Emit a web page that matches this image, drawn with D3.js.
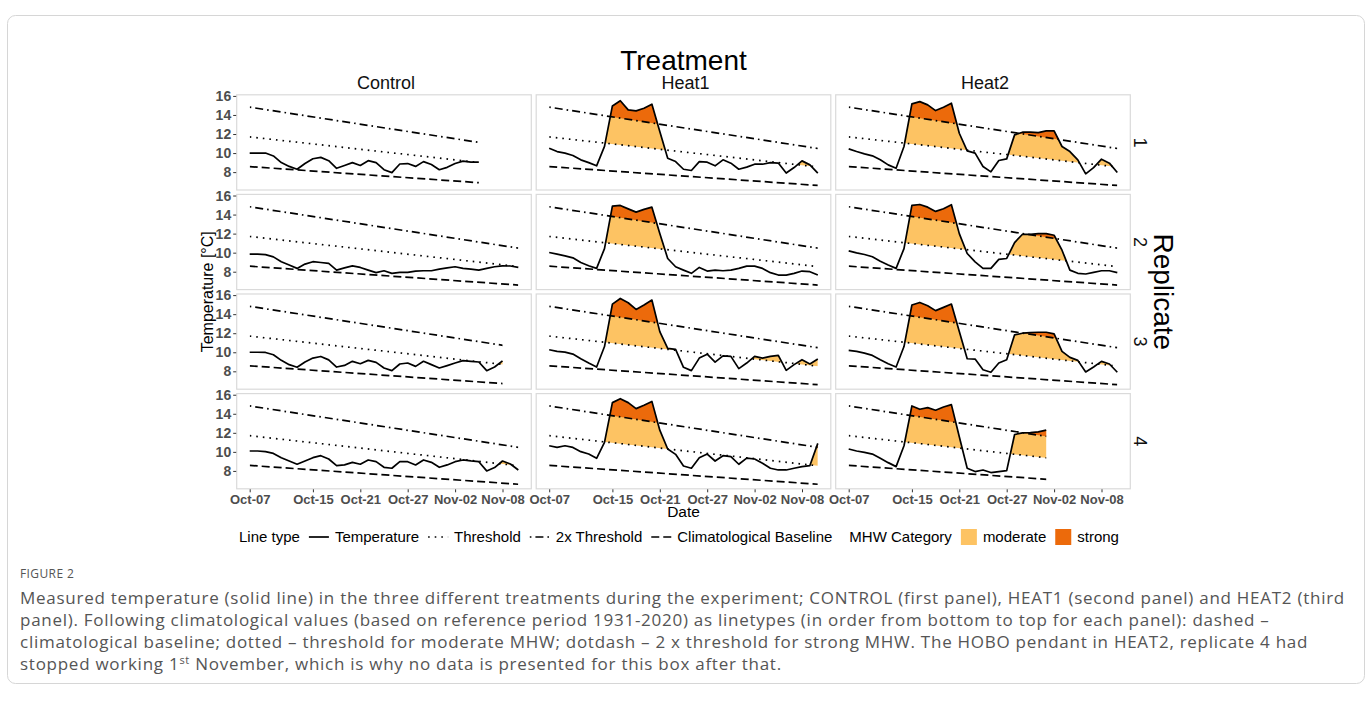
<!DOCTYPE html>
<html>
<head>
<meta charset="utf-8">
<title>Measured temperature per treatment</title>
<script src="https://d3js.org/d3.v7.min.js"></script>
<style>
  body { margin: 0; background: #fff; }
  svg text { font-family: "Liberation Sans", Arial, sans-serif; }
  .tick text { font-weight: bold; fill: #4d4d4d; font-size: 13px; }
  .y-axis .tick text { font-size: 14px; }
  .tick line { stroke: #333; }
  .caption { font-family: "Open Sans", sans-serif; fill: #555; }
</style>
</head>
<body>
<svg id="fig" width="1372" height="703"></svg>
<script>
const treatments = ["Control", "Heat1", "Heat2"];
const replicates = ["1", "2", "3", "4"];
const startDate = "2021-10-07";
const tickDates = ["2021-10-07", "2021-10-15", "2021-10-21", "2021-10-27", "2021-11-02", "2021-11-08"];
const yTicks = [8, 10, 12, 14, 16];

// climatology, straight lines between first and last day
const climDates = ["2021-10-07", "2021-11-10"];
const baseline = [8.58, 6.6];
const threshold = [11.7, 8.54];
const threshold2x = [14.82, 10.48];

// daily mean temperature from Oct-07
const control1 = [10.0, 10.0, 10.0, 9.7, 9.0, 8.6, 8.3, 8.9, 9.4, 9.55, 9.2, 8.4, 8.7, 9.0, 8.7, 9.2, 9.0, 8.25, 7.95, 8.85, 8.9, 8.6, 9.1, 8.8, 8.25, 8.5, 8.9, 9.15, 9.05, 9.05];
const control2 = [9.84, 9.84, 9.8, 9.56, 9.05, 8.7, 8.35, 8.8, 9.05, 8.97, 8.87, 8.17, 8.4, 8.62, 8.45, 8.17, 7.9, 8.1, 7.83, 7.93, 7.93, 8.07, 8.1, 8.1, 8.28, 8.4, 8.52, 8.35, 8.28, 8.17, 8.35, 8.52, 8.62, 8.6, 8.45];
const control3 = [10.0, 10.0, 9.98, 9.74, 9.15, 8.7, 8.42, 8.97, 9.39, 9.56, 9.2, 8.45, 8.62, 9.05, 8.8, 9.15, 8.94, 8.35, 8.07, 8.77, 8.87, 8.52, 9.05, 8.7, 8.35, 8.6, 8.87, 9.12, 9.05, 8.98, 8.07, 8.45, 9.1];
const control4 = [10.09, 10.09, 10.02, 9.84, 9.39, 9.04, 8.7, 9.04, 9.39, 9.6, 9.25, 8.56, 8.63, 8.9, 8.7, 9.15, 8.97, 8.38, 8.28, 8.97, 8.97, 8.63, 9.15, 8.9, 8.38, 8.63, 8.97, 9.15, 9.05, 8.97, 8.0, 8.35, 9.04, 8.73, 8.1];
const heat1r1 = [10.51, 10.16, 9.99, 9.74, 9.29, 9.0, 8.66, 10.7, 14.95, 15.5, 14.53, 14.43, 14.7, 15.13, 12.26, 9.46, 9.11, 8.3, 8.17, 9.1, 9.04, 8.66, 9.29, 8.94, 8.3, 8.52, 8.83, 8.83, 9.0, 8.95, 7.9, 8.48, 9.18, 8.76, 7.9];
const heat1r2 = [10.02, 9.84, 9.67, 9.46, 8.97, 8.63, 8.35, 10.43, 14.89, 14.96, 14.6, 14.26, 14.54, 14.78, 12.0, 9.39, 8.52, 8.17, 7.83, 8.45, 8.07, 8.17, 8.1, 8.17, 8.35, 8.59, 8.59, 8.35, 7.9, 7.65, 7.65, 7.83, 8.07, 8.0, 7.65];
const heat1r3 = [10.26, 10.09, 10.02, 9.81, 9.32, 8.87, 8.45, 10.6, 15.06, 15.65, 15.2, 14.5, 14.96, 15.48, 12.17, 10.4, 10.3, 8.42, 8.07, 9.39, 9.8, 8.97, 9.62, 9.57, 8.28, 8.87, 9.57, 9.39, 9.57, 9.67, 8.1, 8.7, 9.22, 8.77, 9.29];
const heat1r4 = [10.64, 10.47, 10.64, 10.47, 10.02, 9.77, 9.32, 10.99, 15.17, 15.58, 15.17, 14.54, 14.89, 15.3, 12.28, 10.3, 9.74, 8.52, 8.28, 9.39, 9.77, 9.04, 9.6, 9.5, 8.7, 9.35, 9.25, 8.8, 8.28, 8.1, 8.1, 8.28, 8.45, 8.56, 10.89];
const heat2r1 = [10.44, 10.16, 9.92, 9.71, 9.29, 8.76, 8.41, 10.69, 15.16, 15.4, 15.06, 14.46, 14.81, 15.23, 12.08, 10.23, 9.99, 8.59, 8.03, 9.22, 9.39, 11.91, 12.19, 12.19, 12.15, 12.33, 12.33, 10.69, 10.16, 9.29, 7.82, 8.48, 9.36, 8.94, 7.96];
const heat2r2 = [10.19, 9.98, 9.81, 9.57, 9.11, 8.7, 8.35, 10.43, 14.96, 15.06, 14.78, 14.33, 14.61, 15.03, 12.0, 9.91, 9.04, 8.35, 8.35, 9.29, 9.39, 11.06, 11.93, 11.93, 12.0, 12.0, 11.83, 10.26, 8.17, 7.83, 7.76, 7.93, 8.1, 8.1, 7.9];
const heat2r3 = [10.19, 10.09, 9.91, 9.67, 9.22, 8.8, 8.45, 10.6, 14.96, 15.23, 14.89, 14.37, 14.71, 15.06, 12.17, 9.32, 9.29, 8.17, 7.9, 8.87, 9.22, 11.83, 12.0, 12.07, 12.1, 12.1, 11.93, 10.09, 9.46, 9.15, 7.93, 8.45, 9.04, 8.77, 7.9];
const heat2r4 = [10.3, 10.09, 9.95, 9.77, 9.32, 8.87, 8.45, 10.64, 14.82, 14.47, 14.64, 14.37, 14.71, 14.96, 11.58, 8.28, 7.93, 8.1, 7.83, 7.93, 8.03, 11.82, 12.0, 12.03, 12.1, 12.28];

const grid = [
    [control1, control2, control3, control4],
    [heat1r1, heat1r2, heat1r3, heat1r4],
    [heat2r1, heat2r2, heat2r3, heat2r4]
];

const moderateColor = "#fdc363";
const strongColor = "#ec6a0b";
const dashed = "8,4";
const dotted = "1.6,5";
const dotdash = "1.6,4,8,4";

const svg = d3.select("#fig");
const parse = d3.timeParse("%Y-%m-%d");
const t0 = parse(startDate);

const left0 = 236.2, top0 = 94.3;
const panelW = 295.6, panelH = 96.2;
const stepX = 299.5, stepY = 99.6;

const x = d3.scaleTime()
    .domain([d3.timeHour.offset(parse(climDates[0]), -41), d3.timeHour.offset(parse(climDates[1]), 41)])
    .range([0, panelW]);
const y = d3.scaleLinear().domain([6.07, 16.17]).range([panelH, 0]);

const clim = climDates.map((d, i) => ({ date: parse(d), base: baseline[i], thr: threshold[i], thr2: threshold2x[i] }));

// outer frame of the figure
svg.append("rect")
    .attr("x", 7.5).attr("y", 15.5)
    .attr("width", 1357).attr("height", 668)
    .attr("rx", 8)
    .attr("fill", "none")
    .attr("stroke", "#d6d6d6");

const defs = svg.append("defs");

grid.forEach((col, c) => {
    col.forEach((values, r) => {
        const id = `p${c}${r}`;
        const data = values.map((v, i) => ({ date: d3.timeDay.offset(t0, i), v }));
        const g = svg.append("g")
            .attr("transform", `translate(${left0 + c * stepX},${top0 + r * stepY})`);

        g.append("rect")
            .attr("width", panelW).attr("height", panelH)
            .attr("fill", "#fff");

        defs.append("clipPath").attr("id", `thr-${id}`)
            .append("path")
            .attr("d", d3.area().x(d => x(d.date)).y0(0).y1(d => y(d.thr))(clim));
        defs.append("clipPath").attr("id", `thr2-${id}`)
            .append("path")
            .attr("d", d3.area().x(d => x(d.date)).y0(0).y1(d => y(d.thr2))(clim));
        defs.append("clipPath").attr("id", `span-${id}`)
            .append("rect")
            .attr("x", x(data[0].date))
            .attr("y", -5)
            .attr("width", x(data[data.length - 1].date) - x(data[0].date))
            .attr("height", panelH + 10);

        const under = d3.area().x(d => x(d.date)).y0(panelH).y1(d => y(d.v));
        g.append("path").attr("d", under(data))
            .attr("fill", moderateColor)
            .attr("clip-path", `url(#thr-${id})`);
        g.append("path").attr("d", under(data))
            .attr("fill", strongColor)
            .attr("clip-path", `url(#thr2-${id})`);

        const climLine = key => d3.line().x(d => x(d.date)).y(d => y(d[key]));
        [["base", dashed], ["thr", dotted], ["thr2", dotdash]].forEach(([key, dash]) => {
            g.append("path")
                .attr("d", climLine(key)(clim))
                .attr("fill", "none")
                .attr("stroke", "#000")
                .attr("stroke-width", 1.7)
                .attr("stroke-dasharray", dash)
                .attr("clip-path", `url(#span-${id})`);
        });

        g.append("path")
            .attr("d", d3.line().x(d => x(d.date)).y(d => y(d.v))(data))
            .attr("fill", "none")
            .attr("stroke", "#000")
            .attr("stroke-width", 1.7)
            .attr("stroke-linejoin", "round");

        g.append("rect")
            .attr("x", 0.5).attr("y", 0.5)
            .attr("width", panelW - 1).attr("height", panelH - 1)
            .attr("fill", "none")
            .attr("stroke", "#dadada")
            .attr("stroke-width", 1.2);

        if (c === 0) {
            g.append("g")
                .attr("class", "y-axis")
                .call(d3.axisLeft(y).tickValues(yTicks).tickSize(3).tickPadding(2))
                .call(a => a.select(".domain").remove());
        }
        if (r === 3) {
            g.append("g")
                .attr("transform", `translate(0,${panelH})`)
                .call(d3.axisBottom(x).tickValues(tickDates.map(parse))
                    .tickFormat(d3.timeFormat("%b-%d")).tickSize(3).tickPadding(2))
                .call(a => a.select(".domain").remove());
        }
        if (r === 0) {
            svg.append("text")
                .attr("x", left0 + c * stepX + panelW / 2 + 2)
                .attr("y", top0 - 5)
                .attr("text-anchor", "middle")
                .attr("font-size", 18)
                .attr("fill", "#111")
                .text(treatments[c]);
        }
        if (c === 2) {
            const cx = left0 + c * stepX + panelW + 3, cy = top0 + r * stepY + panelH / 2;
            svg.append("text")
                .attr("transform", `translate(${cx},${cy}) rotate(90)`)
                .attr("text-anchor", "middle")
                .attr("font-size", 18)
                .attr("fill", "#111")
                .text(replicates[r]);
        }
    });
});

const gridMidX = left0 + (2 * stepX + panelW) / 2;
const gridMidY = top0 + (3 * stepY + panelH) / 2;

svg.append("text")
    .attr("x", gridMidX).attr("y", 70)
    .attr("text-anchor", "middle")
    .attr("font-size", 28)
    .text("Treatment");

svg.append("text")
    .attr("transform", `translate(1154,${gridMidY}) rotate(90)`)
    .attr("text-anchor", "middle")
    .attr("font-size", 28)
    .text("Replicate");

svg.append("text")
    .attr("transform", `translate(213,${gridMidY}) rotate(-90)`)
    .attr("text-anchor", "middle")
    .attr("font-size", 16)
    .text("Temperature [°C]");

svg.append("text")
    .attr("x", left0 + stepX + panelW / 2).attr("y", 517)
    .attr("text-anchor", "middle")
    .attr("font-size", 15.5)
    .text("Date");

// legend, laid out left to right from measured label widths
const legY = 537;
const leg = svg.append("g").attr("font-size", 15);
let cursor = 239;
function legText(label) {
    const t = leg.append("text").attr("x", cursor).attr("y", legY + 5.2).text(label);
    cursor += t.node().getComputedTextLength();
}
legText("Line type");
const lineKeys = [
    { label: "Temperature", dash: null },
    { label: "Threshold", dash: dotted },
    { label: "2x Threshold", dash: dotdash },
    { label: "Climatological Baseline", dash: dashed }
];
lineKeys.forEach(k => {
    cursor += 9;
    leg.append("line")
        .attr("x1", cursor).attr("x2", cursor + 20)
        .attr("y1", legY).attr("y2", legY)
        .attr("stroke", "#000").attr("stroke-width", 1.7)
        .attr("stroke-dasharray", k.dash);
    cursor += 26;
    legText(k.label);
});
cursor += 17;
legText("MHW Category");
const fillKeys = [
    { label: "moderate", color: moderateColor },
    { label: "strong", color: strongColor }
];
fillKeys.forEach(k => {
    cursor += 9;
    leg.append("rect")
        .attr("x", cursor).attr("y", legY - 8)
        .attr("width", 16).attr("height", 16)
        .attr("fill", k.color);
    cursor += 22;
    legText(k.label);
});

// caption
svg.append("text").attr("class", "caption")
    .attr("x", 20).attr("y", 578)
    .attr("font-size", 12)
    .attr("letter-spacing", 0.4)
    .attr("fill", "#666")
    .text("FIGURE 2");

const captionLines = [
    "Measured temperature (solid line) in the three different treatments during the experiment; CONTROL (first panel), HEAT1 (second panel) and HEAT2 (third",
    "panel). Following climatological values (based on reference period 1931-2020) as linetypes (in order from bottom to top for each panel): dashed \u2013",
    "climatological baseline; dotted \u2013 threshold for moderate MHW; dotdash \u2013 2 x threshold for strong MHW. The HOBO pendant in HEAT2, replicate 4 had"
];
const capSize = 17;
const capNodes = captionLines.map((t, i) =>
    svg.append("text").attr("class", "caption")
        .attr("x", 20).attr("y", 604 + i * 22)
        .attr("font-size", capSize)
        .text(t));
// spread letters so the first line reaches the right margin as in the page
const firstLen = capNodes[0].node().getComputedTextLength();
const spacing = (1325 - firstLen) / captionLines[0].length;
capNodes.forEach(n => n.attr("letter-spacing", spacing));
const last = svg.append("text").attr("class", "caption")
    .attr("x", 20).attr("y", 670)
    .attr("font-size", capSize)
    .attr("letter-spacing", spacing);
last.append("tspan").text("stopped working 1");
last.append("tspan").attr("font-size", 11).attr("dy", -6).text("st");
last.append("tspan").attr("dy", 6).text(" November, which is why no data is presented for this box after that.");
</script>
</body>
</html>
